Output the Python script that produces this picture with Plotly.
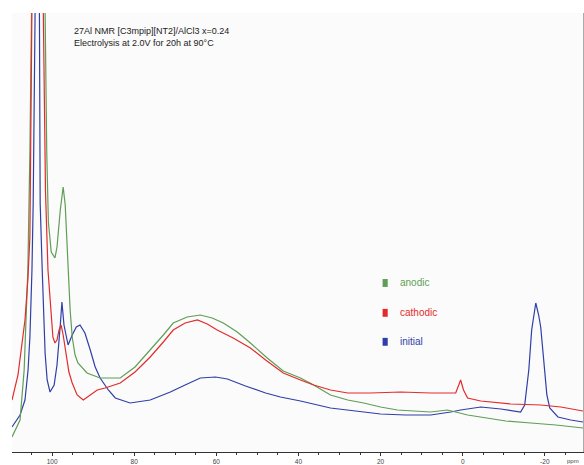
import plotly.graph_objects as go

# ---- data (ppm, intensity in arbitrary units) ----
initial_ppm = [109.76, 107.8, 106.6, 105.85, 105.4, 104.9, 104.6, 104.4, 103.7, 103.1, 102.9, 102.4,
               101.7, 101.2, 100.5, 99.5, 98.8, 98.0, 97.6, 97.1, 96.1, 95.1, 94.1, 93.2, 92.0, 90.7,
               89.5, 88.3, 86.3, 84.6, 81.0, 76.1, 71.2, 67.6, 63.9, 60.2, 57.3, 52.9, 48.0, 44.4,
               39.5, 32.2, 26.1, 20.0, 13.9, 7.8, 2.9, 0.5, -4.4, -9.3, -14.1, -15.1, -16.1, -16.8,
               -17.8, -18.5, -19.0, -19.8, -20.5, -21.2, -23.2, -26.3, -29.3]
initial_int = [25, 37, 52, 82, 115, 182, 249, 460, 620, 460, 249, 182,
               99, 72, 60, 67, 87, 127, 150, 127, 107, 117, 125, 127, 119, 102,
               85, 74, 62, 54, 49, 52, 60, 67, 74, 75, 73, 66, 59, 55,
               51, 44, 41, 38, 37, 37, 40, 42, 45, 43, 40, 47, 82, 122,
               149, 137, 125, 92, 57, 44, 35, 32, 30]

cathodic_ppm = [109.76, 108.3, 106.6, 105.9, 105.4, 105.1, 104.9, 103.5, 102.2, 101.9, 101.6, 101.0, 100.2,
                99.8, 99.3, 98.8, 98.3, 97.8, 97.3, 96.6, 95.9, 95.1, 93.9, 92.4, 90.7, 89.0, 87.1,
                83.4, 79.8, 76.1, 72.9, 70.5, 67.6, 64.6, 62.2, 59.8, 55.9, 51.7, 48.0, 43.7, 39.5,
                36.3, 32.2, 28.0, 22.4, 15.1, 7.8, 1.7, 0.5, -0.2, -1.2, -4.4, -11.7, -19.0, -23.9, -29.3]
cathodic_int = [52, 77, 132, 172, 215, 330, 450, 900, 450, 330, 260, 182, 137,
                115, 109, 112, 122, 127, 117, 97, 80, 69, 57, 52, 57, 62, 64,
                69, 80, 95, 110, 122, 129, 132, 128, 122, 114, 104, 92, 79, 72,
                67, 62, 59, 59, 60, 59, 59, 72, 62, 54, 51, 48, 47, 45, 41]

anodic_ppm = [109.76, 107.8, 106.8, 105.9, 105.4, 105.1, 103.4, 101.7, 101.3, 100.9, 100.2,
              99.3, 98.8, 98.0, 97.3, 96.8, 96.1, 95.6, 95.1, 94.4, 93.7, 91.5, 88.3, 83.4, 79.8,
              76.1, 72.9, 70.5, 67.1, 63.9, 61.0, 58.3, 54.9, 51.7, 47.6, 43.7, 39.5, 36.3, 32.2,
              28.0, 24.1, 20.0, 15.9, 7.8, 3.7, -1.2, -4.4, -10.5, -16.6, -22.7, -29.3]
anodic_int = [15, 32, 82, 182, 300, 440, 1000, 440, 300, 230, 200,
              194, 205, 242, 265, 247, 182, 142, 115, 97, 89, 79, 74, 74, 85,
              102, 117, 129, 135, 137, 134, 129, 120, 109, 94, 81, 74, 67, 57,
              52, 49, 45, 42, 40, 42, 37, 35, 31, 29, 27, 24]

tick_vals = [100, 80, 60, 40, 20, 0, -20]
tick_text = ["100", "80", "60", "40", "20", "0", "-20"]

legend_names = ["anodic", "cathodic", "initial"]
colors = {"anodic": "#5f9e55", "cathodic": "#e32b2b", "initial": "#2f3fa6"}

fig = go.Figure()
fig.add_trace(go.Scatter(x=initial_ppm, y=initial_int, mode="lines", name="initial",
                         line=dict(color=colors["initial"], width=1.2)))
fig.add_trace(go.Scatter(x=anodic_ppm, y=anodic_int, mode="lines", name="anodic",
                         line=dict(color=colors["anodic"], width=1.2)))
fig.add_trace(go.Scatter(x=cathodic_ppm, y=cathodic_int, mode="lines", name="cathodic",
                         line=dict(color=colors["cathodic"], width=1.2)))

# manual legend
leg_y = [0.385, 0.317, 0.251]
for name, yy in zip(legend_names, leg_y):
    fig.add_shape(type="rect", xref="paper", yref="paper",
                  x0=0.649, x1=0.658, y0=yy - 0.009, y1=yy + 0.009,
                  fillcolor=colors[name], line=dict(width=0))
    fig.add_annotation(x=0.676, y=yy, xref="paper", yref="paper", text=name,
                       showarrow=False, xanchor="left", yanchor="middle",
                       font=dict(family="Liberation Sans, Arial", size=10, color=colors[name]))

fig.add_annotation(x=0.105, y=0.975, xref="paper", yref="paper",
                   text="27Al NMR [C3mpip][NT2]/AlCl3 x=0.24<br>Electrolysis at 2.0V for 20h at 90°C",
                   showarrow=False, xanchor="left", yanchor="top", align="left",
                   font=dict(family="Liberation Sans, Arial", size=9, color="#222"))

fig.add_annotation(x=0.997, y=-0.021, xref="paper", yref="paper", text="ppm",
                   showarrow=False, xanchor="right", yanchor="middle",
                   font=dict(family="Liberation Sans, Arial", size=6, color="#444"))

fig.update_layout(
    width=584, height=465,
    margin=dict(l=12, r=1, t=13, b=13),
    paper_bgcolor="white", plot_bgcolor="#fbfbfb",
    showlegend=False,
    xaxis=dict(range=[109.76, -29.3], showgrid=False, zeroline=False,
               showline=True, linecolor="#333", linewidth=1,
               ticks="outside", ticklen=3, tickcolor="#333",
               tickvals=tick_vals, ticktext=tick_text,
               tickfont=dict(family="Liberation Sans, Arial", size=6.5, color="#444"),
               minor=dict(ticks="outside", ticklen=2, dtick=5, tick0=0, tickcolor="#333")),
    yaxis=dict(range=[0, 439], showgrid=False, zeroline=False, side="right",
               showline=True, linecolor="#aaa", linewidth=1,
               showticklabels=False, ticks=""),
)

# remove the default page margin so the 584x465 figure fills the window exactly
fig.write_html("out.html", config={"displayModeBar": False},
               post_script="document.body.style.margin='0';document.body.style.overflow='hidden';")
